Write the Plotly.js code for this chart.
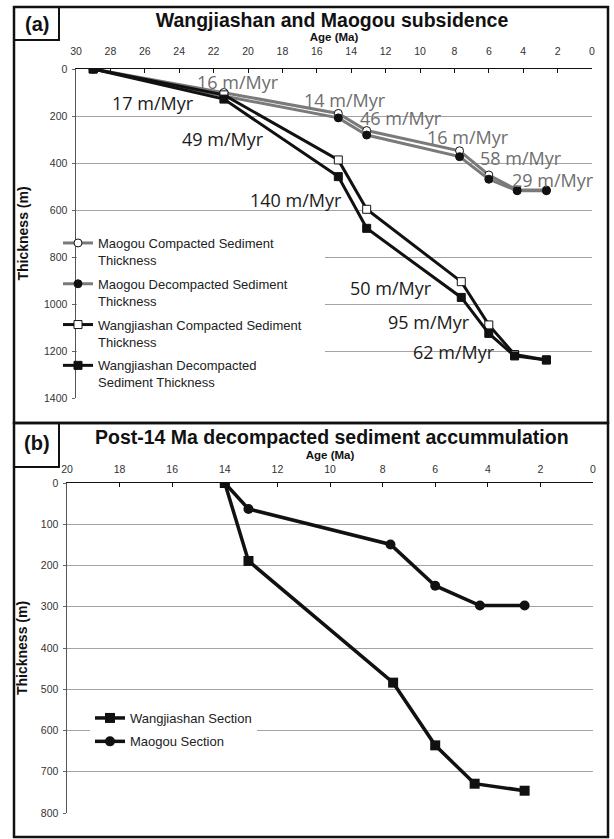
<!DOCTYPE html>
<html><head><meta charset="utf-8">
<script src="https://cdn.plot.ly/plotly-3.0.1.min.js"></script>
<style>html,body{margin:0;padding:0;background:#fff;}#chart{width:614px;height:839px;}</style>
</head><body><div id="chart"></div>
<script>
// ---------- Panel (a): Wangjiashan and Maogou subsidence ----------
const maogouAge = [29, 21.4, 14.75, 13.1, 7.7, 6.0, 4.35, 2.65];
const maogouCompacted = [0, 100, 189, 262, 348, 451, 515, 515];
const maogouDecompacted = [0, 115, 208, 281, 373, 469, 518, 518];
const wangAge = [29, 21.4, 14.75, 13.1, 7.6, 6.0, 4.5, 2.65];
const wangCompacted = [0, 110, 387, 597, 905, 1089, 1215, 1238];
const wangDecompacted = [0, 128, 458, 678, 972, 1125, 1221, 1238];
const legendNamesA = ['Maogou Compacted Sediment<br>Thickness', 'Maogou Decompacted Sediment<br>Thickness',
  'Wangjiashan Compacted Sediment<br>Thickness', 'Wangjiashan Decompacted<br>Sediment Thickness'];
const rateLabelsWang = ['17 m/Myr', '49 m/Myr', '140 m/Myr', '50 m/Myr', '95 m/Myr', '62 m/Myr'];
const rateLabelsMaogou = ['16 m/Myr', '14 m/Myr', '46 m/Myr', '16 m/Myr', '58 m/Myr', '29 m/Myr'];

// ---------- Panel (b): Post-14 Ma decompacted sediment accumulation ----------
const postAgeWang = [14, 13.1, 7.6, 6.0, 4.5, 2.6];
const postWang = [0, 189, 484, 636, 729, 746];
const postAgeMaogou = [14, 13.1, 7.7, 6.0, 4.3, 2.6];
const postMaogou = [0, 63, 149, 249, 297, 297];
const legendNamesB = ['Wangjiashan Section', 'Maogou Section'];

const W = 614, H = 839;
const px = v => v / W, py = v => 1 - v / H;
const SANS = 'Liberation Sans, Arial, sans-serif';
const MYR = 'Open Sans, sans-serif';
const GRAY = '#7a7a7a';

const traces = [
  {x: maogouAge, y: maogouCompacted, name: legendNamesA[0], legendgroup: 'a1', xaxis: 'x', yaxis: 'y',
   mode: 'lines+markers', line: {color: GRAY, width: 3},
   marker: {symbol: 'circle', size: 8, color: '#fff', line: {color: '#111', width: 1}}},
  {x: maogouAge, y: maogouDecompacted, name: legendNamesA[1], legendgroup: 'a2', xaxis: 'x', yaxis: 'y',
   mode: 'lines+markers', line: {color: GRAY, width: 3},
   marker: {symbol: 'circle', size: 8, color: '#111', line: {color: '#111', width: 1}}},
  {x: wangAge, y: wangCompacted, name: legendNamesA[2], legendgroup: 'a3', xaxis: 'x', yaxis: 'y',
   mode: 'lines+markers', line: {color: '#111', width: 3},
   marker: {symbol: 'square', size: 8, color: '#fff', line: {color: '#111', width: 1}}},
  {x: wangAge, y: wangDecompacted, name: legendNamesA[3], legendgroup: 'a4', xaxis: 'x', yaxis: 'y',
   mode: 'lines+markers', line: {color: '#111', width: 3},
   marker: {symbol: 'square', size: 8, color: '#111', line: {color: '#111', width: 1}}},
  {x: postAgeWang, y: postWang, name: legendNamesB[0], legend: 'legend2', legendgroup: 'b1', xaxis: 'x2', yaxis: 'y2',
   mode: 'lines+markers', line: {color: '#111', width: 3.5},
   marker: {symbol: 'square', size: 10, color: '#111'}},
  {x: postAgeMaogou, y: postMaogou, name: legendNamesB[1], legend: 'legend2', legendgroup: 'b2', xaxis: 'x2', yaxis: 'y2',
   mode: 'lines+markers', line: {color: '#111', width: 3.5},
   marker: {symbol: 'circle', size: 10, color: '#111'}}
];

const tickFont = {family: SANS, size: 10.5, color: '#333'};
function xAx(domain, range, anchor, standoff, tstand) {
  return {domain: domain, range: range, autorange: false, anchor: anchor, side: 'top',
    dtick: 2, tick0: 0, ticks: 'inside', ticklen: 4, tickwidth: 1, tickcolor: '#111',
    showline: true, linecolor: '#111', linewidth: 1.5, showgrid: false, zeroline: false,
    tickfont: tickFont, ticklabelstandoff: tstand,
    title: {text: 'Age (Ma)', font: {family: SANS, size: 11.5, color: '#111', weight: 'bold'}, standoff: standoff}};
}
function yAx(domain, range, dtick, anchor, standoff) {
  return {domain: domain, range: range, autorange: false, anchor: anchor, dtick: dtick, tick0: 0,
    ticks: 'outside', ticklen: 3, tickcolor: '#666', showline: true, linecolor: '#555', linewidth: 1.5,
    showgrid: true, gridcolor: '#a3a3a3', gridwidth: 1, zeroline: false, tickfont: tickFont, ticklabelstandoff: 2,
    title: {text: 'Thickness (m)', font: {family: SANS, size: 14, color: '#111', weight: 'bold'}, standoff: standoff}};
}

// rate label positions (age, thickness) for panel (a)
const wangPos = [[25.5, 143], [21.45, 299], [17.2, 557], [11.7, 933], [9.5, 1075], [8.0, 1203]];
const maogouPos = [[20.6, 54], [14.35, 132], [11.1, 210], [7.2, 288], [4.13, 380], [2.27, 472]];
const annotations = [];
rateLabelsWang.forEach((t, i) => annotations.push({text: t, x: wangPos[i][0], y: wangPos[i][1], xref: 'x', yref: 'y',
  xanchor: 'center', yanchor: 'middle', showarrow: false, font: {family: MYR, size: 18, color: '#1a1a1a'}}));
rateLabelsMaogou.forEach((t, i) => annotations.push({text: t, x: maogouPos[i][0], y: maogouPos[i][1], xref: 'x', yref: 'y',
  xanchor: 'center', yanchor: 'middle', showarrow: false, font: {family: MYR, size: 18, color: '#6e6e6e'}}));
annotations.push({text: '(a)', x: px(36.5), y: py(24), xref: 'paper', yref: 'paper', xanchor: 'center', yanchor: 'middle',
  showarrow: false, font: {family: SANS, size: 20, color: '#111', weight: 'bold'}});
annotations.push({text: '(b)', x: px(36.5), y: py(443), xref: 'paper', yref: 'paper', xanchor: 'center', yanchor: 'middle',
  showarrow: false, font: {family: SANS, size: 20, color: '#111', weight: 'bold'}});
annotations.push({text: 'Post-14 Ma decompacted sediment accummulation', x: px(332), y: py(437), xref: 'paper', yref: 'paper',
  xanchor: 'center', yanchor: 'middle', showarrow: false, font: {family: SANS, size: 19.5, color: '#111', weight: 'bold'}});

const shapes = [
  {type: 'rect', xref: 'paper', yref: 'paper', x0: px(77), x1: px(325), y0: py(228), y1: py(393), layer: 'above',
   fillcolor: '#fff', line: {width: 0}},
  {type: 'rect', xref: 'paper', yref: 'paper', x0: px(14), x1: px(608), y0: py(7), y1: py(423), line: {color: '#111', width: 2.5}},
  {type: 'rect', xref: 'paper', yref: 'paper', x0: px(14), x1: px(608), y0: py(423), y1: py(837), line: {color: '#111', width: 2.5}},
  {type: 'rect', xref: 'paper', yref: 'paper', x0: px(14), x1: px(59), y0: py(7), y1: py(40), line: {color: '#111', width: 2}},
  {type: 'rect', xref: 'paper', yref: 'paper', x0: px(14), x1: px(59), y0: py(423), y1: py(467), line: {color: '#111', width: 2}}
];

const layout = {
  width: W, height: H, margin: {l: 0, r: 0, t: 0, b: 0}, paper_bgcolor: '#fff', plot_bgcolor: '#fff',
  font: {family: SANS, color: '#222'},
  title: {text: 'Wangjiashan and Maogou subsidence', x: px(332), xanchor: 'center', y: py(20), yanchor: 'middle',
    xref: 'paper', yref: 'container', font: {family: SANS, size: 19.5, color: '#111', weight: 'bold'}},
  xaxis: xAx([px(76), px(592)], [30, 0], 'y', 1, 8),
  yaxis: yAx([py(398), py(69)], [1400, 0], 200, 'x', 12),
  xaxis2: xAx([px(67), px(593)], [20, 0], 'y2', 1, 4),
  yaxis2: yAx([py(813), py(483)], [800, 0], 100, 'x2', 10),
  showlegend: true,
  legend: {x: px(58), xanchor: 'left', y: py(228), yanchor: 'top', bgcolor: 'rgba(0,0,0,0)', borderwidth: 0,
    font: {family: SANS, size: 13, color: '#222'}, valign: 'top', tracegroupgap: 4, traceorder: 'grouped'},
  legend2: {x: px(90), xanchor: 'left', y: py(703), yanchor: 'top', bgcolor: '#fff', borderwidth: 0,
    font: {family: SANS, size: 13, color: '#222'}, tracegroupgap: 3.5, traceorder: 'grouped'},
  annotations: annotations, shapes: shapes
};

Plotly.newPlot('chart', traces, layout, {staticPlot: true, displayModeBar: false});
</script></body></html>
